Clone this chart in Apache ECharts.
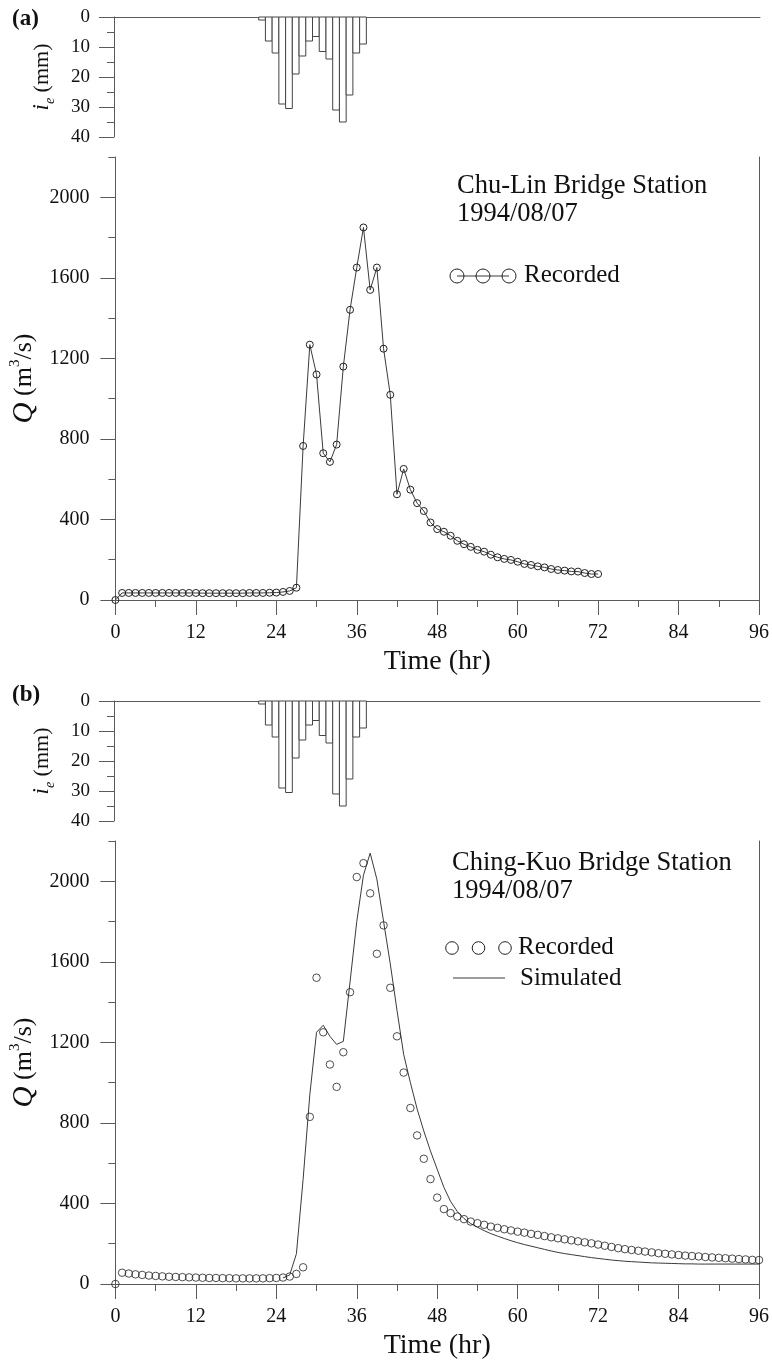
<!DOCTYPE html>
<html>
<head>
<meta charset="utf-8">
<script src="https://cdn.jsdelivr.net/npm/echarts@6/dist/echarts.min.js"></script>
<style>
html,body{margin:0;padding:0;background:#fff;}
#c{width:772px;height:1364px;}
</style>
</head>
<body>
<div id="c"></div>
<script>
// ---------------- DATA ----------------
// effective rainfall hyetograph (hour, mm) - same storm for both panels
const rainHours = [22, 23, 24, 25, 26, 27, 28, 29, 30, 31, 32, 33, 34, 35, 36, 37];
const rainDepth = [1, 8, 12, 29, 30.5, 19, 13, 8, 6.5, 11.5, 14, 31, 35, 26, 12, 9];

// (a) Chu-Lin Bridge Station, recorded discharge, hourly from hour 0
const qRecordedA = [0, 35, 35, 35, 35, 35, 35, 35, 35, 35, 35, 35, 35, 34, 34, 34, 34, 34, 34, 34,
  35, 35, 35, 36, 37, 40, 45, 61, 765, 1268, 1120, 729, 686, 772, 1159, 1441, 1651, 1850, 1540, 1651,
  1248, 1019, 525, 651, 548, 481, 442, 385, 352, 339, 319, 294, 277, 264, 249, 240, 225, 212, 204, 199,
  190, 179, 174, 167, 162, 154, 149, 146, 142, 141, 134, 129, 129];

// (b) Ching-Kuo Bridge Station, recorded discharge, hourly from hour 0
const qRecordedB = [0, 56, 52, 48, 45, 42, 40, 38, 36, 35, 34, 33, 32, 31, 30, 30, 29, 29, 28, 28,
  28, 28, 28, 29, 30, 32, 37, 50, 83, 830, 1521, 1250, 1090, 979, 1151, 1449, 2021, 2090, 1940, 1640,
  1781, 1471, 1230, 1050, 874, 738, 622, 521, 429, 372, 352, 335, 322, 310, 302, 294, 285, 279, 272, 266,
  260, 255, 249, 244, 238, 232, 227, 222, 217, 212, 207, 202, 196, 190, 184, 178, 173, 169, 165, 161,
  157, 153, 150, 147, 144, 141, 139, 137, 134, 132, 130, 128, 126, 124, 122, 120, 119];

// (b) simulated discharge, hourly from simStartHour
const simStartHour = 25;
const qSimB = [30, 45, 150, 520, 940, 1250, 1285, 1230, 1190, 1205, 1500, 1800, 2030, 2140, 2010, 1800,
  1590, 1360, 1140, 1000, 870, 760, 660, 570, 480, 410, 360, 325, 300, 282, 265, 250, 238, 226, 215, 205,
  196, 188, 180, 172, 164, 157, 151, 146, 141, 136, 131, 127, 123, 119, 116, 113, 111, 109, 107, 105,
  104, 103, 102, 101, 100, 100, 99, 99, 99, 99, 99, 99, 99, 99, 99, 99];

const qMajorTicks = [0, 400, 800, 1200, 1600, 2000];
const titleA = ['Chu-Lin Bridge Station', '1994/08/07'];
const titleB = ['Ching-Kuo Bridge Station', '1994/08/07'];

// ---------------- STYLE ----------------
const FONT = '"Liberation Serif", "Times New Roman", serif';
const AX = '#5a5a5a';
const TXT = '#111';
const LINE = '#3a3a3a';
const OFF = 684; // vertical offset of panel (b)

const axLine = {show: true, onZero: false, lineStyle: {color: AX, width: 1}};

function rainX(gi) {
  return {type: 'value', gridIndex: gi, min: 0, max: 96, position: 'top',
    axisLine: axLine, axisTick: {show: false}, axisLabel: {show: false},
    splitLine: {show: false}};
}
function rainY(gi) {
  return {type: 'value', gridIndex: gi, min: 0, max: 40, interval: 10, inverse: true,
    axisLine: axLine,
    axisTick: {show: true, length: 15, lineStyle: {color: AX}},
    minorTick: {show: true, splitNumber: 2, length: 7, lineStyle: {color: AX}},
    axisLabel: {margin: 24, fontSize: 19, fontFamily: FONT, color: TXT},
    splitLine: {show: false}, minorSplitLine: {show: false},
    name: '{i|i}{e|e}{t| (mm)}', nameLocation: 'middle', nameRotate: 90, nameGap: 57,
    nameTextStyle: {color: TXT, fontFamily: FONT, fontSize: 22,
      rich: {
        i: {fontFamily: FONT, fontStyle: 'italic', fontSize: 23, lineHeight: 30, color: TXT, verticalAlign: 'middle'},
        e: {fontFamily: FONT, fontStyle: 'italic', fontSize: 14, lineHeight: 14, color: TXT, verticalAlign: 'bottom'},
        t: {fontFamily: FONT, fontSize: 22, lineHeight: 30, color: TXT, verticalAlign: 'middle'}
      }}
  };
}
function mainX(gi) {
  return {type: 'value', gridIndex: gi, min: 0, max: 96, interval: 12,
    axisLine: axLine,
    axisTick: {show: true, length: 15, lineStyle: {color: AX}},
    minorTick: {show: true, splitNumber: 2, length: 7, lineStyle: {color: AX}},
    axisLabel: {margin: 23, fontSize: 20, fontFamily: FONT, color: TXT},
    splitLine: {show: false}, minorSplitLine: {show: false},
    name: 'Time (hr)', nameLocation: 'middle', nameGap: 48,
    nameTextStyle: {fontSize: 28, fontFamily: FONT, color: TXT}};
}
function mainYMajor(gi) {
  return {type: 'value', gridIndex: gi, min: 0, max: 2200, interval: 400, position: 'left',
    axisLine: axLine,
    axisTick: {show: true, length: 15, customValues: qMajorTicks, lineStyle: {color: AX}},
    axisLabel: {margin: 26, fontSize: 20, fontFamily: FONT, color: TXT, customValues: qMajorTicks,
      formatter: v => (v % 400 === 0 && v <= 2000) ? String(v) : ''},
    splitLine: {show: false},
    name: '{q|Q}{t| (m}{s|3}{t|/s)}', nameLocation: 'middle', nameRotate: 90, nameGap: 70,
    nameTextStyle: {color: TXT, fontFamily: FONT, fontSize: 26,
      rich: {
        q: {fontFamily: FONT, fontStyle: 'italic', fontSize: 29, lineHeight: 32, color: TXT, verticalAlign: 'middle'},
        t: {fontFamily: FONT, fontSize: 26, lineHeight: 32, color: TXT, verticalAlign: 'middle'},
        s: {fontFamily: FONT, fontSize: 15, lineHeight: 15, color: TXT, verticalAlign: 'top'}
      }}
  };
}
function mainYMinor(gi) {
  return {type: 'value', gridIndex: gi, min: 0, max: 2200, interval: 200, position: 'left',
    axisLine: {show: false}, axisTick: {show: true, length: 7, lineStyle: {color: AX}},
    axisLabel: {show: false}, splitLine: {show: false}};
}
function mainYRight(gi) {
  return {type: 'value', gridIndex: gi, min: 0, max: 2200, position: 'right',
    axisLine: axLine, axisTick: {show: false}, axisLabel: {show: false}, splitLine: {show: false}};
}

function rainSeries(xi, yi) {
  return {type: 'custom', xAxisIndex: xi, yAxisIndex: yi, silent: true, clip: false,
    data: rainHours.map((h, i) => [h, rainDepth[i]]),
    encode: {x: 0, y: 1},
    renderItem: function (params, api) {
      const h = api.value(0), d = api.value(1);
      const p0 = api.coord([h - 0.5, 0]);
      const p1 = api.coord([h + 0.5, d]);
      return {type: 'rect',
        shape: {x: p0[0], y: Math.min(p0[1], p1[1]), width: p1[0] - p0[0], height: Math.abs(p1[1] - p0[1])},
        style: {fill: '#fff', stroke: '#444', lineWidth: 1}};
    }
  };
}

const hollow = {color: 'rgba(0,0,0,0)', borderColor: '#222', borderWidth: 1};

// ---------------- DECORATION (titles, legends, panel tags) ----------------
function txt(x, y, text, size, extra) {
  return {type: 'text', x: x, y: y, silent: true,
    style: Object.assign({text: text, fontFamily: FONT, fontSize: size, fill: TXT,
      verticalAlign: 'middle', align: 'left'}, extra || {})};
}
function circle(cx, cy, r) {
  return {type: 'circle', silent: true, shape: {cx: cx, cy: cy, r: r},
    style: {fill: 'rgba(0,0,0,0)', stroke: '#222', lineWidth: 1}};
}
function seg(x1, y1, x2, y2) {
  return {type: 'line', silent: true, shape: {x1: x1, y1: y1, x2: x2, y2: y2},
    style: {stroke: LINE, lineWidth: 1}};
}

const graphic = [
  txt(12, 19, '(a)', 23, {fontWeight: 'bold'}),
  txt(12, 695, '(b)', 23, {fontWeight: 'bold'}),
  {type: 'text', x: 457, y: 172, silent: true,
    style: {text: titleA.join('\n'), fontFamily: FONT, fontSize: 26.5, lineHeight: 28, fill: TXT, verticalAlign: 'top'}},
  {type: 'text', x: 452, y: 849, silent: true,
    style: {text: titleB.join('\n'), fontFamily: FONT, fontSize: 26.5, lineHeight: 28, fill: TXT, verticalAlign: 'top'}},
  // legend (a)
  seg(457, 276, 509, 276),
  circle(457, 276, 7), circle(483, 276, 7), circle(509, 276, 7),
  txt(524, 275, 'Recorded', 25),
  // legend (b)
  circle(452, 948, 6.3), circle(478.5, 948, 6.3), circle(505, 948, 6.3),
  txt(518, 947, 'Recorded', 25),
  seg(453, 978, 505, 978),
  txt(520, 978, 'Simulated', 25)
];

// ---------------- OPTION ----------------
const option = {
  backgroundColor: '#fff',
  animation: false,
  textStyle: {fontFamily: FONT},
  grid: [
    {left: 114, top: 17, width: 646, height: 120},
    {left: 114, top: 157, width: 646, height: 443},
    {left: 114, top: 17 + OFF, width: 646, height: 120},
    {left: 114, top: 157 + OFF, width: 646, height: 443}
  ],
  xAxis: [rainX(0), mainX(1), rainX(2), mainX(3)],
  yAxis: [rainY(0), mainYMajor(1), mainYMinor(1), mainYRight(1),
          rainY(2), mainYMajor(3), mainYMinor(3), mainYRight(3)],
  series: [
    rainSeries(0, 0),
    {name: 'Recorded', type: 'line', xAxisIndex: 1, yAxisIndex: 1,
      data: qRecordedA.map((v, i) => [i, v]),
      symbol: 'circle', symbolSize: 7, showAllSymbol: true,
      itemStyle: hollow, lineStyle: {color: LINE, width: 1}, z: 3},
    rainSeries(2, 4),
    {name: 'Simulated', type: 'line', xAxisIndex: 3, yAxisIndex: 5,
      data: qSimB.map((v, i) => [simStartHour + i, v]),
      symbol: 'none', lineStyle: {color: LINE, width: 1}, z: 2},
    {name: 'Recorded ', type: 'scatter', xAxisIndex: 3, yAxisIndex: 5,
      data: qRecordedB.map((v, i) => [i, v]),
      symbol: 'circle', symbolSize: 7.5, itemStyle: hollow, z: 3}
  ],
  graphic: graphic
};

const chart = echarts.init(document.getElementById('c'), null, {renderer: 'canvas'});
chart.setOption(option);
</script>
</body>
</html>
